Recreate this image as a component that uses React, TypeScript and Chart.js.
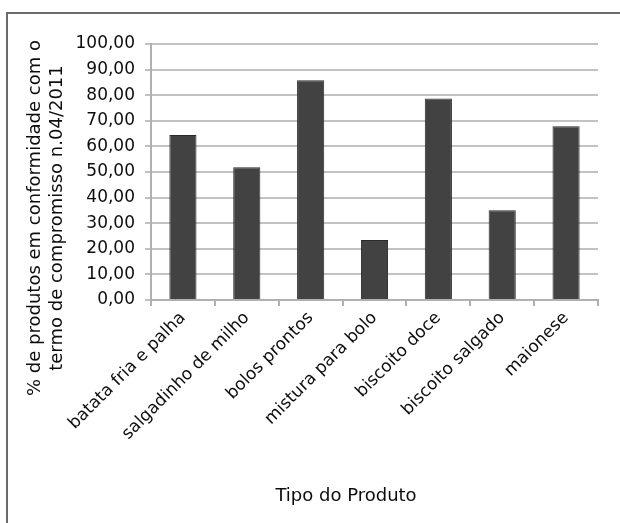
import React, { useEffect, useRef } from "react";
import { Chart, registerables } from "chart.js";

Chart.register(...registerables);

// Product types and share of products compliant with commitment 04/2011 (%)
const categories = [
  "batata fria e palha",
  "salgadinho de milho",
  "bolos prontos",
  "mistura para bolo",
  "biscoito doce",
  "biscoito salgado",
  "maionese",
];
const compliance = [64.5, 51.9, 85.8, 23.4, 78.7, 35.1, 67.9];

const yTitleLines = ["% de produtos em conformidade com o", "termo de compromisso n.04/2011"];
const xTitle = "Tipo do Produto";

const FONT = "'DejaVu Sans', sans-serif";
const TEXT = "#0d0d0d";

const fmt = (v: number) => v.toFixed(2).replace(".", ",");

// Draws the two-line vertical title and the horizontal title
const axisTitlePlugin = {
  id: "axisTitles",
  afterDraw(chart: any) {
    const ctx = chart.ctx;
    ctx.save();
    ctx.fillStyle = TEXT;
    ctx.font = `18px ${FONT}`;
    ctx.textAlign = "center";
    ctx.textBaseline = "middle";
    const cy = 218;
    const xs = [35, 57];
    yTitleLines.forEach((line, i) => {
      ctx.save();
      ctx.translate(xs[i], cy);
      ctx.rotate(-Math.PI / 2);
      ctx.fillText(line, 0, 0);
      ctx.restore();
    });
    ctx.fillText(xTitle, 346, 496);
    ctx.restore();
  },
};

export default function App() {
  const ref = useRef<HTMLCanvasElement | null>(null);

  useEffect(() => {
    if (!ref.current) return;
    const chart = new Chart(ref.current, {
      type: "bar",
      data: {
        labels: categories,
        datasets: [
          {
            data: compliance,
            backgroundColor: "#424242",
            borderColor: "#2a2a2a",
            borderWidth: 1,
            categoryPercentage: 1,
            barPercentage: 0.425,
          },
        ],
      },
      options: {
        animation: false,
        responsive: false,
        events: [],
        layout: { padding: { left: 0, top: 44, right: 22, bottom: 0 } },
        plugins: {
          legend: { display: false },
          tooltip: { enabled: false },
        },
        scales: {
          x: {
            afterFit: (s: any) => {
              s.height = 223;
            },
            grid: {
              drawOnChartArea: false,
              tickLength: 6,
              color: "#b0b0b0",
              lineWidth: 2,
            },
            border: { color: "#b0b0b0", width: 2 },
            ticks: {
              minRotation: 45,
              maxRotation: 45,
              color: TEXT,
              font: { family: FONT, size: 17 },
              padding: 2,
            },
          },
          y: {
            min: 0,
            max: 100,
            afterFit: (s: any) => {
              s.width = 151;
            },
            grid: {
              color: "#c2c2c2",
              lineWidth: 2,
              tickLength: 6,
            },
            border: { color: "#b0b0b0", width: 2 },
            ticks: {
              stepSize: 10,
              padding: 10,
              color: TEXT,
              font: { family: FONT, size: 17 },
              callback: (v: any) => fmt(Number(v)),
            },
          },
        },
      },
      plugins: [axisTitlePlugin],
    });
    return () => chart.destroy();
  }, []);

  return (
    <div
      style={{
        position: "fixed",
        left: 0,
        top: 0,
        width: 620,
        height: 523,
        overflow: "hidden",
        background: "#ffffff",
      }}
    >
      <div
        style={{
          position: "absolute",
          left: 6,
          top: 12,
          width: 700,
          height: 600,
          border: "2px solid #6a6a6a",
        }}
      />
      <canvas
        ref={ref}
        width={620}
        height={523}
        style={{ position: "absolute", left: 0, top: 0, width: 620, height: 523 }}
      />
    </div>
  );
}
